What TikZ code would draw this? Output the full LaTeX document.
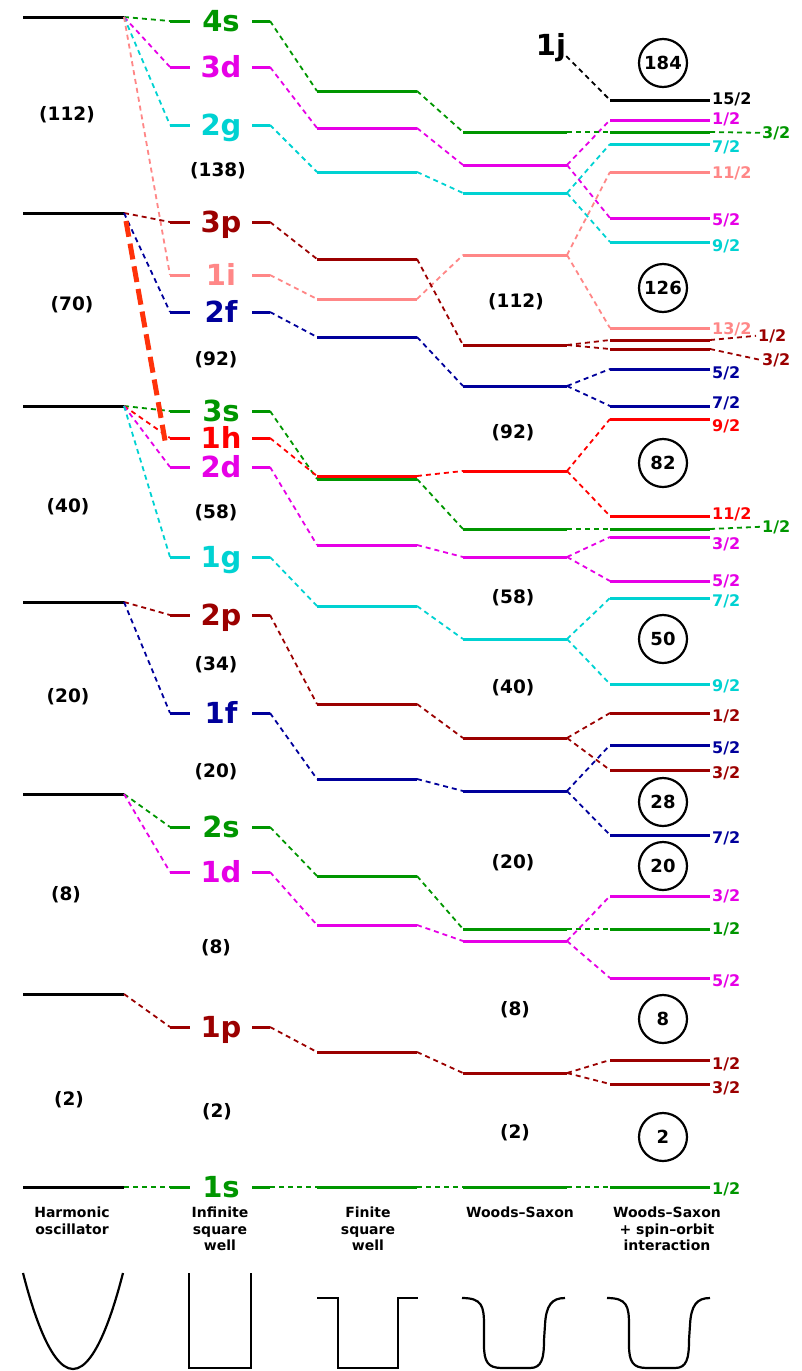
\documentclass[tikz,border=0pt]{standalone}
\usepackage{fontspec}
\setmainfont{DejaVu Sans}
\definecolor{cG}{RGB}{0,150,0}
\definecolor{cM}{RGB}{230,0,230}
\definecolor{cC}{RGB}{0,210,210}
\definecolor{cB}{RGB}{155,0,0}
\definecolor{cP}{RGB}{255,135,135}
\definecolor{cN}{RGB}{0,0,155}
\definecolor{cR}{RGB}{255,0,0}
\definecolor{cO}{RGB}{255,50,10}
\begin{document}
\begin{tikzpicture}[x=1pt,y=-1pt,
  lvl/.style={line width=3pt},
  conn/.style={line width=1.8pt,dash pattern=on 5pt off 4pt},
  orb/.style={font=\bfseries\fontsize{29}{29}\selectfont,inner sep=0pt},
  sol/.style={font=\bfseries\fontsize{16}{16}\selectfont,inner sep=0pt},
  parn/.style={font=\bfseries\fontsize{18.5}{18.5}\selectfont,inner sep=0pt},
  capt/.style={font=\bfseries\fontsize{14}{16.5}\selectfont,align=center,inner sep=0pt,anchor=north},
  magic/.style={circle,draw,line width=2.2pt,minimum size=48pt,inner sep=0pt,font=\bfseries\fontsize{18}{18}\selectfont},
  pot/.style={line width=2.2pt,black}]
\fill[white] (0,0) rectangle (801,1371);
\path[use as bounding box] (0,0) rectangle (801,1371);

% harmonic oscillator levels
\foreach \i/\yy in {1/17,2/213,3/406,4/602,5/794,6/994,7/1187}{
  \coordinate (hoL\i) at (23,\yy);
  \coordinate (hoR\i) at (124,\yy);
  \draw[lvl,black] (hoL\i) -- (hoR\i);
}

% orbitals: name/colour/HO level/ISW y/FSW y/WS y
\foreach \nm/\cl/\hh/\ya/\yb/\yw in {4s/cG/1/21/91/132, 3d/cM/1/67/128/165, 2g/cC/1/125/172/193, 1i/cP/1/275/299/255, 3p/cB/2/222/259/345, 2f/cN/2/312/337/386, 3s/cG/3/411/479/529, 1h/cR/3/438/476/471, 2d/cM/3/467/545/557, 1g/cC/3/557/606/639, 2p/cB/4/615/704/738, 1f/cN/4/713/779/791, 2s/cG/5/827/876/929, 1d/cM/5/872/925/941, 1p/cB/6/1027/1052/1073, 1s/cG/7/1187/1187/1187}{
  \coordinate (iswL\nm) at (170,\ya);
  \coordinate (iswLe\nm) at (190,\ya);
  \coordinate (iswR\nm) at (252,\ya);
  \coordinate (iswRe\nm) at (270,\ya);
  \coordinate (fswL\nm) at (317,\yb);
  \coordinate (fswR\nm) at (417,\yb);
  \coordinate (wsL\nm) at (463,\yw);
  \coordinate (wsR\nm) at (567,\yw);
  \draw[conn,\cl] (hoR\hh) -- (iswL\nm);
  \draw[lvl,\cl] (iswL\nm) -- (iswLe\nm);
  \node[orb,text=\cl,anchor=base] (isw\nm) at (221,{\ya+10.5}) {\nm};
  \draw[lvl,\cl] (iswR\nm) -- (iswRe\nm);
  \draw[conn,\cl] (iswRe\nm) -- (fswL\nm);
  \draw[lvl,\cl] (fswL\nm) -- (fswR\nm);
  \draw[conn,\cl] (fswR\nm) -- (wsL\nm);
  \draw[lvl,\cl] (wsL\nm) -- (wsR\nm);
}

% spin-orbit levels: key/colour/line y/label y/numerator/orbital
\foreach \q/\cl/\yy/\ly/\nu/\src in {a/cM/120/118/1/3d, c/cC/144/146/7/2g, d/cP/172/172/11/1i, e/cM/218/219/5/3d, f/cC/242/245/9/2g, g/cP/328/328/13/1i, k/cN/369/372/5/2f, l/cN/406/402/7/2f, m/cR/419/425/9/1h, n/cR/516/513/11/1h, p/cM/537/543/3/2d, r/cM/581/580/5/2d, s/cC/598/600/7/1g, t/cC/684/685/9/1g, u/cB/713/715/1/2p, v/cN/745/747/5/1f, w/cB/770/772/3/2p, x/cN/835/837/7/1f, y/cM/896/895/3/1d, z/cG/929/928/1/2s, A/cM/978/980/5/1d, B/cB/1060/1063/1/1p, C/cB/1084/1087/3/1p, D/cG/1187/1188/1/1s}{
  \coordinate (soL\q) at (610,\yy);
  \coordinate (soR\q) at (710,\yy);
  \draw[conn,\cl] (wsR\src) -- (soL\q);
  \draw[lvl,\cl] (soL\q) -- (soR\q);
  \node[sol,text=\cl,anchor=base west] (lab\q) at (712,{\ly+6}) {\nu/2};
}

% spin-orbit levels with labels further right
\foreach \q/\cl/\yy/\lx/\ly/\nu/\src in {b/cG/132/762/132/3/4s, h/cB/340/758/335/1/3p, i/cB/349/762/359/3/3p, o/cG/529/762/526/1/3s}{
  \coordinate (soL\q) at (610,\yy);
  \coordinate (soR\q) at (710,\yy);
  \draw[conn,\cl] (wsR\src) -- (soL\q);
  \draw[lvl,\cl] (soL\q) -- (soR\q);
  \node[sol,text=\cl,anchor=base west] (lab\q) at (\lx,{\ly+6}) {\nu/2};
  \draw[conn,\cl] (soR\q) -- ([xshift=-2pt]lab\q.west);
}

% 1j level
\node[orb,anchor=base] (j1) at (551,55) {1j};
\coordinate (soLj) at (610,100);
\coordinate (soRj) at (710,100);
\draw[conn,black] ([yshift=-9pt]j1.east) -- (soLj);
\draw[lvl,black] (soLj) -- (soRj);
\node[sol,anchor=base west] (labj) at (712,104) {15/2};

% annotation
\draw[cO,line width=5pt,dash pattern=on 16pt off 7pt] ([xshift=2pt,yshift=-8pt]hoR2) -- ([xshift=-4pt,yshift=-8pt]iswL1h);

% magic numbers
\foreach \mm/\yy in {184/63,126/288,82/463,50/639,28/802,20/866,8/1019,2/1137}{
  \node[magic] (mag\mm) at (663,\yy) {\mm};
}

% shell totals
\foreach \tt/\xx/\yy [count=\i] in {112/67/115, 70/72/305, 40/68/507, 20/68/697, 8/66/895, 2/69/1100, 138/218/171, 92/216/360, 58/216/513, 34/216/665, 20/216/772, 8/216/948, 2/217/1112, 112/516/302, 92/513/433, 58/513/598, 40/513/688, 20/513/863, 8/515/1010, 2/515/1133}{
  \node[parn] (par\i) at (\xx,\yy) {(\tt)};
}

% captions
\node[capt] (capHO) at (72,1207) {Harmonic\\oscillator};
\node[capt] (capISW) at (220,1207) {Infinite\\square\\well};
\node[capt] (capFSW) at (368,1207) {Finite\\square\\well};
\node[capt] (capWS) at (520,1207) {Woods–Saxon};
\node[capt] (capSO) at (667,1207) {Woods–Saxon\\+ spin–orbit\\interaction};

% potentials
\draw[pot] (23,1273) parabola bend (73,1369) (123,1273);
\draw[pot] (189,1273) -- (189,1368) -- (251,1368) -- (251,1273);
\draw[pot] (317,1298) -- (338,1298) -- (338,1368) -- (398,1368) -- (398,1298) -- (418,1298);
\foreach \sx in {0,145}{
  \draw[pot,shift={(\sx,0)}] (462,1298) .. controls (482,1298) and (484,1306) .. (484,1325) -- (484,1345) .. controls (484,1362) and (488,1368) .. (502,1368) -- (530,1368) .. controls (542,1368) and (544,1358) .. (544,1340) -- (545,1325) .. controls (546,1305) and (552,1298) .. (565,1298);
}
\end{tikzpicture}
\end{document}
